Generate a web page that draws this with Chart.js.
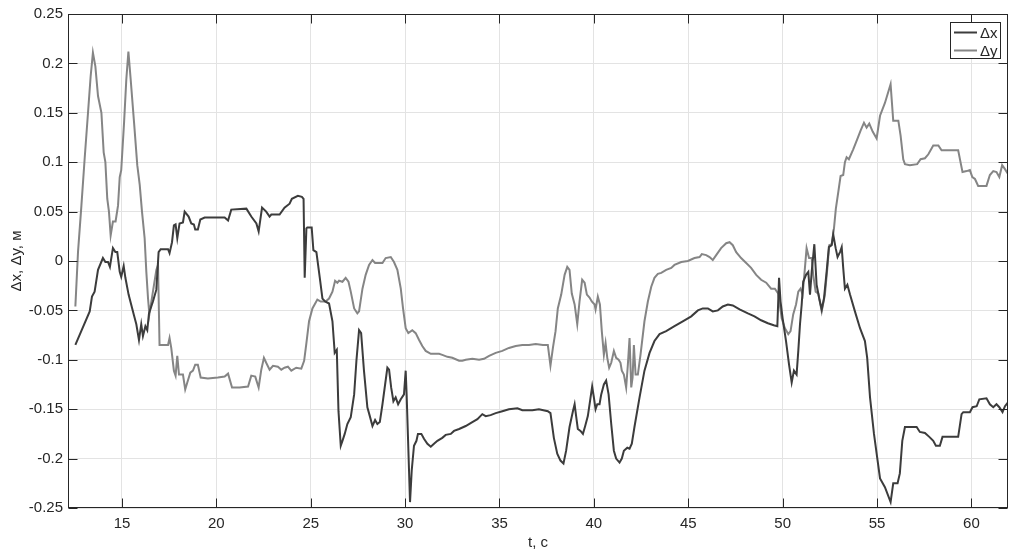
<!DOCTYPE html>
<html>
<head>
<meta charset="utf-8">
<script src="https://cdn.jsdelivr.net/npm/chart.js@4"></script>
<style>
html,body{margin:0;padding:0;background:#fff;}
#wrap{width:1018px;height:554px;}
</style>
</head>
<body>
<div id="wrap"><canvas id="c" width="1018" height="554"></canvas></div>
<script>
// ---- data ----
const seriesNames = ['\u0394x', '\u0394y'];
const xTicks = [15, 20, 25, 30, 35, 40, 45, 50, 55, 60];
const yTicks = [-0.25, -0.2, -0.15, -0.1, -0.05, 0, 0.05, 0.1, 0.15, 0.2, 0.25];

const dxT = [12.53,13.29,13.41,13.55,13.73,13.99,14.12,14.26,14.36,14.52,14.65,14.75,14.88,14.96,15.09,15.18,15.35,15.62,15.76,15.90,16.02,16.11,16.24,16.34,16.43,16.64,16.82,16.94,17.05,17.44,17.52,17.65,17.75,17.84,17.93,18.05,18.23,18.32,18.53,18.67,18.81,18.88,19.02,19.15,19.38,20.44,20.62,20.79,21.59,21.85,22.12,22.24,22.42,22.64,22.82,22.91,23.35,23.61,23.88,24.00,24.32,24.53,24.62,24.68,24.77,24.82,25.05,25.14,25.30,25.48,25.62,25.76,25.97,26.15,26.27,26.38,26.47,26.59,26.68,26.80,26.94,27.12,27.30,27.42,27.56,27.67,27.82,28.00,28.13,28.27,28.41,28.53,28.66,28.80,28.94,29.06,29.15,29.26,29.38,29.50,29.63,29.77,29.94,30.03,30.08,30.26,30.35,30.47,30.60,30.68,30.86,31.00,31.18,31.36,31.53,31.71,31.97,32.15,32.42,32.59,32.86,33.21,33.56,33.83,34.09,34.27,34.53,34.80,35.15,35.50,35.95,36.21,36.74,37.09,37.56,37.70,37.88,38.06,38.23,38.39,38.53,38.71,38.89,38.98,39.06,39.15,39.29,39.42,39.54,39.68,39.81,39.91,40.00,40.09,40.18,40.30,40.39,40.53,40.65,40.78,40.92,41.06,41.18,41.36,41.48,41.59,41.77,41.89,42.01,42.15,42.42,42.68,42.95,43.21,43.48,43.83,44.27,44.71,45.16,45.51,45.77,46.04,46.30,46.57,46.83,47.10,47.36,47.72,48.16,48.51,48.86,49.22,49.53,49.72,49.81,49.89,50.00,50.18,50.34,50.48,50.60,50.74,50.83,50.92,51.01,51.09,51.24,51.36,51.45,51.54,51.68,51.80,51.94,52.07,52.19,52.33,52.45,52.60,52.68,52.81,52.91,53.04,53.13,53.21,53.30,53.43,53.57,53.83,54.10,54.36,54.48,54.63,54.84,55.01,55.16,55.42,55.72,55.86,56.09,56.21,56.34,56.48,56.74,57.10,57.27,57.54,57.77,57.98,58.12,58.33,58.47,58.86,59.30,59.48,59.57,59.92,60.06,60.28,60.42,60.80,60.98,61.16,61.33,61.48,61.65,61.78,61.94];
const dxV = [-0.085,-0.051,-0.036,-0.031,-0.009,0.003,-0.001,-0.001,-0.006,0.013,0.009,0.009,-0.011,-0.016,-0.005,-0.017,-0.034,-0.054,-0.064,-0.080,-0.064,-0.076,-0.066,-0.070,-0.053,-0.041,-0.029,0.009,0.012,0.012,0.008,0.019,0.036,0.037,0.023,0.038,0.039,0.050,0.045,0.038,0.037,0.032,0.032,0.042,0.044,0.044,0.041,0.052,0.053,0.045,0.038,0.030,0.054,0.050,0.045,0.047,0.047,0.054,0.058,0.063,0.066,0.065,0.063,-0.017,0.033,0.034,0.034,0.011,0.009,-0.017,-0.038,-0.041,-0.043,-0.061,-0.093,-0.090,-0.152,-0.187,-0.182,-0.175,-0.165,-0.158,-0.135,-0.101,-0.070,-0.073,-0.111,-0.148,-0.157,-0.167,-0.161,-0.165,-0.163,-0.145,-0.125,-0.108,-0.110,-0.128,-0.142,-0.138,-0.145,-0.140,-0.135,-0.111,-0.135,-0.244,-0.212,-0.187,-0.182,-0.175,-0.175,-0.180,-0.185,-0.188,-0.185,-0.182,-0.179,-0.176,-0.175,-0.172,-0.170,-0.167,-0.163,-0.160,-0.155,-0.157,-0.156,-0.154,-0.152,-0.150,-0.149,-0.151,-0.151,-0.150,-0.152,-0.154,-0.179,-0.195,-0.202,-0.205,-0.192,-0.168,-0.152,-0.145,-0.157,-0.170,-0.172,-0.175,-0.167,-0.157,-0.140,-0.127,-0.138,-0.150,-0.145,-0.145,-0.135,-0.125,-0.121,-0.135,-0.165,-0.192,-0.200,-0.204,-0.200,-0.192,-0.189,-0.190,-0.185,-0.168,-0.138,-0.111,-0.093,-0.081,-0.074,-0.071,-0.066,-0.061,-0.056,-0.050,-0.048,-0.048,-0.051,-0.050,-0.046,-0.044,-0.045,-0.049,-0.053,-0.056,-0.060,-0.063,-0.065,-0.066,-0.017,-0.041,-0.058,-0.081,-0.105,-0.123,-0.111,-0.115,-0.091,-0.064,-0.044,-0.021,-0.014,-0.011,-0.034,-0.011,0.017,-0.024,-0.038,-0.049,-0.038,-0.011,0.014,0.016,0.027,0.013,0.004,0.009,0.014,-0.007,-0.028,-0.024,-0.034,-0.051,-0.068,-0.081,-0.098,-0.138,-0.175,-0.199,-0.220,-0.229,-0.244,-0.225,-0.225,-0.215,-0.182,-0.168,-0.168,-0.168,-0.173,-0.174,-0.178,-0.182,-0.187,-0.187,-0.178,-0.178,-0.178,-0.155,-0.153,-0.153,-0.148,-0.147,-0.140,-0.139,-0.145,-0.148,-0.145,-0.148,-0.153,-0.147,-0.143];

const dyT = [12.53,12.67,12.85,13.02,13.20,13.34,13.46,13.59,13.73,13.91,14.03,14.12,14.22,14.31,14.40,14.52,14.66,14.79,14.88,14.96,15.11,15.23,15.34,15.46,15.64,15.81,15.94,16.06,16.20,16.29,16.38,16.45,16.64,16.82,16.91,16.99,17.26,17.44,17.52,17.61,17.75,17.84,17.93,18.02,18.23,18.35,18.46,18.62,18.76,18.88,19.02,19.17,19.55,20.08,20.44,20.62,20.83,21.23,21.68,21.85,22.06,22.24,22.38,22.52,22.64,22.82,23.00,23.26,23.44,23.61,23.79,23.97,24.23,24.50,24.65,24.77,24.91,25.09,25.35,25.53,25.79,25.97,26.15,26.29,26.41,26.50,26.68,26.85,27.00,27.12,27.30,27.47,27.56,27.74,27.91,28.09,28.27,28.41,28.80,28.97,29.24,29.41,29.59,29.77,29.89,30.03,30.17,30.38,30.56,30.74,30.91,31.09,31.36,31.80,31.97,32.24,32.50,32.86,33.03,33.21,33.56,33.92,34.18,34.45,34.80,35.15,35.50,35.86,36.21,36.56,36.92,37.30,37.56,37.70,37.83,37.97,38.09,38.27,38.45,38.59,38.71,38.83,38.98,39.12,39.24,39.38,39.51,39.63,39.77,39.89,40.04,40.09,40.21,40.32,40.42,40.53,40.62,40.71,40.81,40.92,41.06,41.18,41.31,41.41,41.48,41.59,41.71,41.80,41.89,41.98,42.05,42.12,42.21,42.33,42.47,42.68,42.86,43.04,43.21,43.39,43.57,43.83,44.10,44.27,44.63,44.98,45.33,45.60,45.72,45.95,46.13,46.30,46.48,46.74,47.01,47.19,47.36,47.54,47.80,48.07,48.33,48.60,48.86,49.13,49.39,49.59,49.77,49.95,50.12,50.30,50.42,50.56,50.71,50.83,50.95,51.06,51.15,51.27,51.40,51.54,51.62,51.75,51.89,52.07,52.24,52.37,52.47,52.60,52.72,52.82,52.95,53.07,53.21,53.30,53.39,53.51,53.74,53.95,54.13,54.31,54.45,54.59,54.77,54.98,55.16,55.42,55.72,55.86,56.13,56.25,56.39,56.48,56.74,57.13,57.31,57.54,57.72,57.98,58.25,58.42,58.86,59.30,59.53,59.75,59.92,60.05,60.19,60.36,60.80,60.98,61.16,61.33,61.48,61.63,61.78,61.94];
const dyV = [-0.046,0.009,0.056,0.103,0.150,0.187,0.211,0.197,0.167,0.150,0.110,0.100,0.063,0.050,0.026,0.040,0.040,0.056,0.085,0.092,0.140,0.184,0.212,0.184,0.140,0.097,0.077,0.050,0.023,-0.011,-0.038,-0.054,-0.031,-0.009,-0.004,-0.085,-0.085,-0.085,-0.078,-0.088,-0.111,-0.116,-0.096,-0.115,-0.115,-0.130,-0.123,-0.113,-0.111,-0.105,-0.105,-0.118,-0.119,-0.118,-0.117,-0.114,-0.128,-0.128,-0.127,-0.116,-0.117,-0.128,-0.110,-0.098,-0.103,-0.110,-0.106,-0.107,-0.110,-0.108,-0.107,-0.111,-0.108,-0.109,-0.101,-0.083,-0.061,-0.048,-0.039,-0.041,-0.041,-0.038,-0.031,-0.020,-0.022,-0.020,-0.021,-0.017,-0.021,-0.031,-0.048,-0.053,-0.051,-0.028,-0.014,-0.004,0.001,-0.002,-0.002,0.003,0.004,-0.001,-0.009,-0.028,-0.048,-0.068,-0.073,-0.070,-0.073,-0.080,-0.086,-0.091,-0.094,-0.094,-0.095,-0.097,-0.098,-0.101,-0.101,-0.100,-0.099,-0.100,-0.099,-0.096,-0.093,-0.091,-0.088,-0.086,-0.085,-0.085,-0.084,-0.085,-0.085,-0.106,-0.088,-0.071,-0.048,-0.034,-0.014,-0.006,-0.009,-0.033,-0.044,-0.064,-0.041,-0.019,-0.022,-0.034,-0.037,-0.041,-0.044,-0.049,-0.036,-0.044,-0.071,-0.095,-0.083,-0.098,-0.108,-0.103,-0.091,-0.098,-0.100,-0.103,-0.111,-0.115,-0.128,-0.105,-0.078,-0.128,-0.118,-0.085,-0.115,-0.115,-0.095,-0.061,-0.041,-0.026,-0.017,-0.013,-0.012,-0.009,-0.007,-0.004,-0.001,0.000,0.003,0.004,0.007,0.006,0.004,0.001,0.006,0.013,0.018,0.019,0.016,0.009,0.003,-0.002,-0.007,-0.014,-0.019,-0.022,-0.028,-0.028,-0.033,-0.058,-0.068,-0.074,-0.071,-0.054,-0.044,-0.031,-0.028,-0.034,-0.014,0.013,0.003,0.003,-0.014,-0.031,-0.033,-0.051,-0.034,-0.007,0.016,0.017,0.033,0.053,0.070,0.086,0.087,0.100,0.105,0.103,0.113,0.123,0.132,0.140,0.135,0.139,0.131,0.124,0.147,0.160,0.179,0.142,0.142,0.127,0.103,0.098,0.097,0.098,0.103,0.104,0.108,0.117,0.117,0.112,0.112,0.112,0.090,0.091,0.092,0.085,0.083,0.076,0.076,0.087,0.091,0.090,0.085,0.097,0.093,0.088];

const xMin = 12.14, xMax = 61.94, yMin = -0.25, yMax = 0.25;

// ---- chart ----
const FONT = "'Liberation Sans', Arial, sans-serif";
const TXT = '#262626';
const colors = ['#3c3c3c', '#858585'];

function pts(T, V) { return T.map((t, i) => ({ x: t, y: V[i] })); }

const framePlugin = {
  id: 'frame',
  afterDatasetsDraw(chart) {
    const { ctx, chartArea: a, scales } = chart;
    ctx.save();
    ctx.strokeStyle = TXT;
    ctx.lineWidth = 1;
    const L = Math.round(a.left) + 0.5, R = Math.round(a.right) - 0.5;
    const T = Math.round(a.top) + 0.5, B = Math.round(a.bottom) - 0.5;
    ctx.strokeRect(L, T, R - L, B - T);
    const tl = 9;
    ctx.beginPath();
    xTicks.forEach(v => {
      const px = Math.round(scales.x.getPixelForValue(v)) + 0.5;
      ctx.moveTo(px, B); ctx.lineTo(px, B - tl);
      ctx.moveTo(px, T); ctx.lineTo(px, T + tl);
    });
    yTicks.forEach(v => {
      const py = Math.round(scales.y.getPixelForValue(v)) + 0.5;
      ctx.moveTo(L, py); ctx.lineTo(L + tl, py);
      ctx.moveTo(R, py); ctx.lineTo(R - tl, py);
    });
    ctx.stroke();

    // legend box (inside, top-right)
    const bw = 50, bh = 36;
    const bx = Math.round(a.right) - 8 - bw, by = Math.round(a.top) + 8;
    ctx.fillStyle = '#fff';
    ctx.fillRect(bx, by, bw, bh);
    ctx.strokeStyle = TXT;
    ctx.lineWidth = 1;
    ctx.strokeRect(bx + 0.5, by + 0.5, bw, bh);
    ctx.font = '15px ' + FONT;
    ctx.textBaseline = 'middle';
    ctx.textAlign = 'left';
    chart.data.datasets.forEach((ds, i) => {
      const cy = by + 10.5 + i * 18;
      ctx.strokeStyle = ds.borderColor;
      ctx.lineWidth = 2;
      ctx.beginPath();
      ctx.moveTo(bx + 4, cy); ctx.lineTo(bx + 27, cy);
      ctx.stroke();
      ctx.fillStyle = TXT;
      ctx.fillText(ds.label, bx + 30, cy + 1);
    });
    ctx.restore();
  }
};

new Chart(document.getElementById('c'), {
  type: 'line',
  data: {
    datasets: [
      { label: seriesNames[0], data: pts(dxT, dxV), borderColor: colors[0], borderWidth: 2, pointRadius: 0, tension: 0, fill: false },
      { label: seriesNames[1], data: pts(dyT, dyV), borderColor: colors[1], borderWidth: 2, pointRadius: 0, tension: 0, fill: false }
    ]
  },
  options: {
    responsive: false,
    animation: false,
    events: [],
    layout: { padding: { left: 0, top: 11, right: 10, bottom: 0 } },
    plugins: { legend: { display: false }, tooltip: { enabled: false } },
    scales: {
      x: {
        type: 'linear', min: xMin, max: xMax,
        afterBuildTicks: s => { s.ticks = xTicks.map(v => ({ value: v })); },
        afterFit: s => { s.height = 46; },
        grid: { color: '#e3e3e3', drawTicks: false, lineWidth: 1 },
        border: { display: false },
        ticks: { color: TXT, font: { family: FONT, size: 15 }, padding: 7, maxRotation: 0, callback: v => String(v) },
        title: { display: true, text: 't, c', color: TXT, font: { family: FONT, size: 15 }, padding: { top: 0, bottom: 2 } }
      },
      y: {
        type: 'linear', min: yMin, max: yMax,
        afterBuildTicks: s => { s.ticks = yTicks.map(v => ({ value: v })); },
        afterFit: s => { s.width = 68; },
        grid: { color: '#e3e3e3', drawTicks: false, lineWidth: 1 },
        border: { display: false },
        ticks: { color: TXT, font: { family: FONT, size: 15 }, padding: 5, callback: v => String(Number(v.toFixed(2))) },
        title: { display: true, text: '\u0394x, \u0394y, \u043c', color: TXT, font: { family: FONT, size: 15 }, padding: { top: 8, bottom: 0 } }
      }
    }
  },
  plugins: [framePlugin]
});
</script>
</body>
</html>
